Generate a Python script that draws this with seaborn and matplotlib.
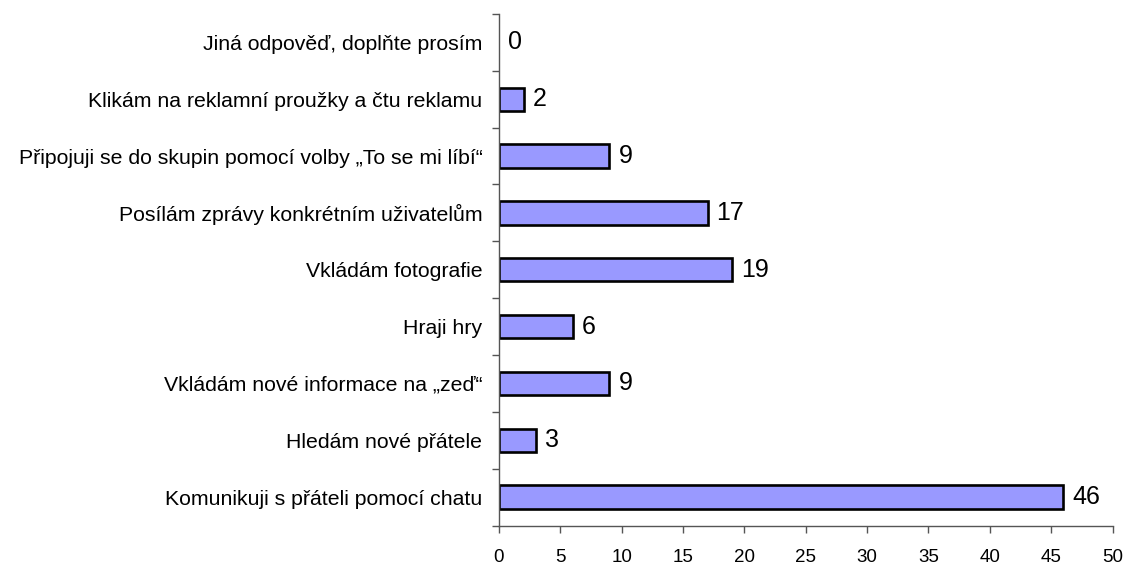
import matplotlib
matplotlib.use("Agg")
import matplotlib.pyplot as plt
import seaborn as sns
import pandas as pd
import numpy as np
from matplotlib.ticker import FixedLocator

categories = [
    "Jiná odpověď, doplňte prosím",
    "Klikám na reklamní proužky a čtu reklamu",
    "Připojuji se do skupin pomocí volby „To se mi líbí“",
    "Posílám zprávy konkrétním uživatelům",
    "Vkládám fotografie",
    "Hraji hry",
    "Vkládám nové informace na „zeď“",
    "Hledám nové přátele",
    "Komunikuji s přáteli pomocí chatu",
]
values = [0, 2, 9, 17, 19, 6, 9, 3, 46]
x_ticks = [0, 5, 10, 15, 20, 25, 30, 35, 40, 45, 50]

sns.set_style("white")
plt.rcParams["font.family"] = ["Liberation Sans", "DejaVu Sans"]
plt.rcParams["text.color"] = "black"
plt.rcParams["xtick.color"] = "black"
plt.rcParams["ytick.color"] = "black"

df = pd.DataFrame({"cat": categories, "val": values})

fig = plt.figure(figsize=(11.27, 5.64), dpi=100)
ax = fig.add_axes([499 / 1127, 1 - 525.5 / 564, (1112.5 - 499) / 1127, (525.5 - 14) / 564])

sns.barplot(data=df, y="cat", x="val", order=categories, orient="h",
            color="#9999FF", saturation=1, width=0.41,
            edgecolor="black", linewidth=1.9, ax=ax)

# a zero-length bar shows no outline in the reference
for p in ax.patches:
    if p.get_width() == 0:
        p.set_linewidth(0)

ax.set_xlim(0, 50)
ax.set_ylim(len(categories) - 0.5, -0.5)
ax.set_xlabel("")
ax.set_ylabel("")

for i, v in enumerate(values):
    ax.annotate(str(v), xy=(v, i), xytext=(6.5, 0), textcoords="offset points",
                ha="left", va="center", fontsize=18, color="black")

for s in ["top", "right"]:
    ax.spines[s].set_visible(False)
for s in ["left", "bottom"]:
    ax.spines[s].set_color("#555555")
    ax.spines[s].set_linewidth(1.0)

ax.xaxis.set_major_locator(FixedLocator(x_ticks))
ax.set_xticklabels([str(t) for t in x_ticks])
ax.tick_params(axis="x", which="major", direction="out", length=5, width=1,
               color="#555555", labelcolor="black", labelsize=13.5, pad=12, bottom=True)

ax.yaxis.set_minor_locator(FixedLocator(np.arange(-0.5, len(categories), 1.0)))
ax.tick_params(axis="y", which="minor", direction="out", length=5, width=1,
               color="#555555", left=True)
ax.tick_params(axis="y", which="major", length=0, labelsize=15.3, pad=12,
               labelcolor="black")

fig.savefig("out.png", dpi=100, facecolor="white")
